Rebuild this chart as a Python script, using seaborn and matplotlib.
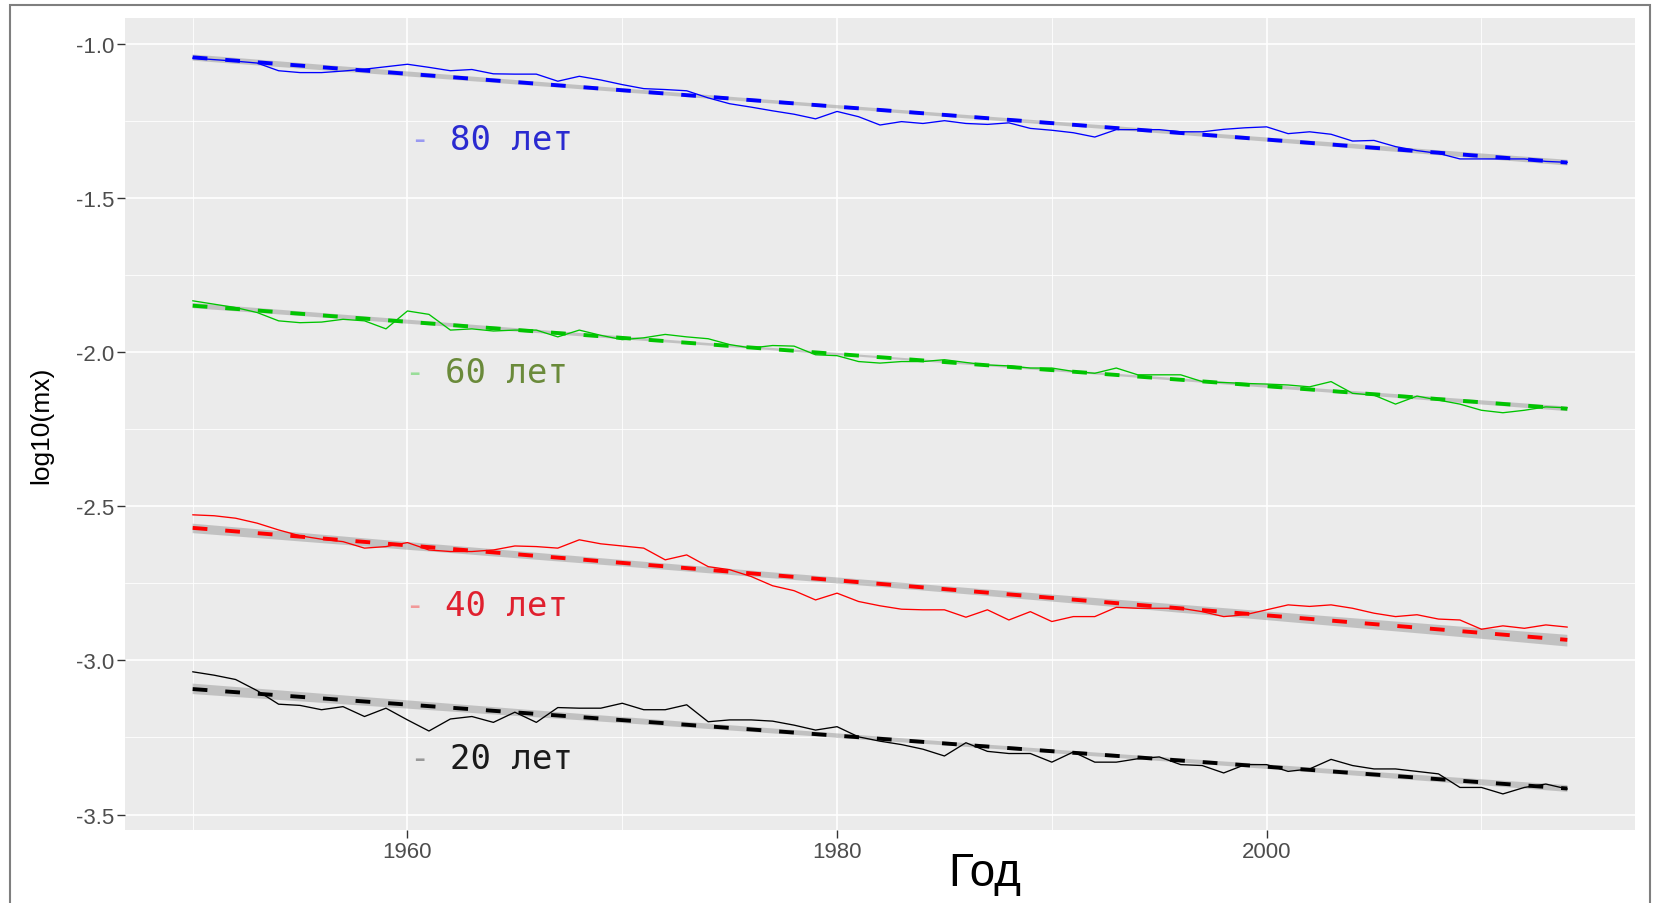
import numpy as np
import pandas as pd
import matplotlib
matplotlib.use("Agg")
import matplotlib.pyplot as plt
import seaborn as sns
from matplotlib.patches import Rectangle

# ---------------- data ----------------
years = list(range(1950, 2015))

age80 = [-1.047, -1.052, -1.057, -1.063, -1.088, -1.094, -1.094, -1.089, -1.083, -1.075,
         -1.067, -1.077, -1.088, -1.084, -1.098, -1.099, -1.099, -1.122, -1.106, -1.118,
         -1.133, -1.146, -1.149, -1.153, -1.176, -1.195, -1.206, -1.218, -1.229, -1.244,
         -1.220, -1.237, -1.264, -1.253, -1.259, -1.250, -1.259, -1.262, -1.257, -1.275,
         -1.281, -1.289, -1.303, -1.279, -1.279, -1.279, -1.286, -1.286, -1.278, -1.273,
         -1.270, -1.292, -1.286, -1.294, -1.316, -1.314, -1.334, -1.347, -1.356, -1.374,
         -1.374, -1.374, -1.374, -1.382, -1.385]

age60 = [-1.834, -1.845, -1.856, -1.872, -1.899, -1.905, -1.903, -1.894, -1.899, -1.925,
         -1.867, -1.878, -1.929, -1.925, -1.932, -1.929, -1.929, -1.951, -1.929, -1.946,
         -1.960, -1.954, -1.943, -1.951, -1.957, -1.976, -1.987, -1.979, -1.981, -2.009,
         -2.012, -2.031, -2.036, -2.031, -2.031, -2.025, -2.034, -2.042, -2.045, -2.052,
         -2.052, -2.063, -2.069, -2.052, -2.074, -2.074, -2.074, -2.096, -2.099, -2.102,
         -2.104, -2.107, -2.113, -2.096, -2.134, -2.140, -2.169, -2.143, -2.156, -2.169,
         -2.189, -2.197, -2.189, -2.178, -2.181]

age40 = [-2.528, -2.531, -2.539, -2.555, -2.577, -2.596, -2.607, -2.615, -2.636, -2.631,
         -2.618, -2.642, -2.647, -2.647, -2.642, -2.629, -2.631, -2.636, -2.609, -2.622,
         -2.629, -2.636, -2.674, -2.658, -2.696, -2.706, -2.728, -2.758, -2.774, -2.804,
         -2.782, -2.809, -2.823, -2.834, -2.836, -2.836, -2.860, -2.836, -2.869, -2.842,
         -2.874, -2.858, -2.858, -2.828, -2.831, -2.831, -2.831, -2.842, -2.858, -2.852,
         -2.836, -2.820, -2.825, -2.820, -2.831, -2.847, -2.858, -2.852, -2.866, -2.869,
         -2.899, -2.888, -2.896, -2.885, -2.892]

age20 = [-3.037, -3.048, -3.062, -3.098, -3.142, -3.146, -3.160, -3.150, -3.182, -3.155,
         -3.193, -3.229, -3.190, -3.182, -3.201, -3.168, -3.201, -3.153, -3.155, -3.155,
         -3.139, -3.160, -3.160, -3.144, -3.199, -3.193, -3.193, -3.197, -3.210, -3.226,
         -3.215, -3.248, -3.262, -3.273, -3.288, -3.310, -3.267, -3.295, -3.302, -3.302,
         -3.330, -3.297, -3.330, -3.330, -3.319, -3.313, -3.338, -3.341, -3.365, -3.338,
         -3.338, -3.360, -3.352, -3.321, -3.341, -3.352, -3.352, -3.360, -3.368, -3.412,
         -3.412, -3.433, -3.412, -3.401, -3.417]

ages = ["20 лет", "40 лет", "60 лет", "80 лет"]
line_colors = ["#000000", "#FF0000", "#00C400", "#0000FF"]
label_colors = ["#1A1A1A", "#E0202E", "#6A8A3A", "#2A2AD0"]
label_dash_x = [1960.55, 1960.3, 1960.3, 1960.55]
label_text_x = [1962.0, 1961.75, 1961.75, 1962.0]
label_y = [-3.318, -2.822, -2.065, -1.312]

xticks_major = [1960, 1980, 2000]
xticks_minor = [1950, 1970, 1990, 2010]
yticks_major = [-3.5, -3.0, -2.5, -2.0, -1.5, -1.0]
yticks_minor = [-3.25, -2.75, -2.25, -1.75, -1.25]

x_label = "Год"
y_label = "log10(mx)"

# ---------------- style ----------------
sns.set_theme(style="darkgrid", rc={
    "axes.facecolor": "#EBEBEB",
    "figure.facecolor": "white",
    "grid.color": "white",
})
plt.rcParams["font.family"] = ["Liberation Sans", "DejaVu Sans"]

W, H = 1656, 904
fig = plt.figure(figsize=(W / 100, H / 100), dpi=100)
ax = fig.add_axes([125 / W, 1 - 831 / H, 1510 / W, 812 / H])

df = pd.DataFrame({
    "year": years * 4,
    "value": age20 + age40 + age60 + age80,
    "age": np.repeat(ages, len(years)),
})

sns.lineplot(data=df, x="year", y="value", hue="age",
             palette=dict(zip(ages, line_colors)), linewidth=0.95,
             errorbar=None, legend=False, ax=ax, zorder=3)

for age, col in zip(ages, line_colors):
    sub = df[df["age"] == age]
    sns.regplot(data=sub, x="year", y="value", scatter=False, color=col,
                ax=ax, seed=1, truncate=True,
                line_kws=dict(linestyle=(0, (3.8, 4.6)), linewidth=2.8, zorder=4))
    band = ax.collections[-1]
    band.set_facecolor("#999999")
    band.set_alpha(0.5)
    band.set_edgecolor("none")
    band.set_zorder(2)

for i, age in enumerate(ages):
    ax.text(label_dash_x[i], label_y[i], "-", color=line_colors[i], alpha=0.35,
            family="DejaVu Sans Mono", fontsize=24.5, ha="center", va="center", zorder=5)
    ax.text(label_text_x[i], label_y[i], age, color=label_colors[i],
            family="DejaVu Sans Mono", fontsize=24.5, ha="left", va="center", zorder=5)

ax.set_xlim(1946.85, 2017.15)
ax.set_ylim(-3.550, -0.917)
ax.set_xticks(xticks_major)
ax.set_xticks(xticks_minor, minor=True)
ax.set_yticks(yticks_major)
ax.set_yticks(yticks_minor, minor=True)
ax.set_yticklabels([f"{v:.1f}" for v in yticks_major])
ax.grid(True, which="major", color="white", linewidth=1.2)
ax.grid(True, which="minor", color="white", linewidth=0.6)
ax.tick_params(which="major", bottom=True, left=True, length=6, width=1,
               color="#333333", labelcolor="#4D4D4D", labelsize=16, pad=2)
ax.tick_params(which="minor", bottom=False, left=False, length=0)
for s in ax.spines.values():
    s.set_visible(False)

ax.set_xlabel(x_label, fontsize=33, color="black")
ax.xaxis.set_label_coords(0.5695, -0.026)
ax.set_ylabel(y_label, fontsize=19, color="black")
ax.yaxis.set_label_coords(-0.0555, 0.5)
ax.yaxis.label.set_va("center")

fig.patches.append(Rectangle((10 / W, -0.01), (1650 - 10) / W, 1.01 - 6 / H,
                             transform=fig.transFigure, fill=False,
                             edgecolor="#7F7F7F", linewidth=1.5))

fig.savefig("out.png", dpi=100)
